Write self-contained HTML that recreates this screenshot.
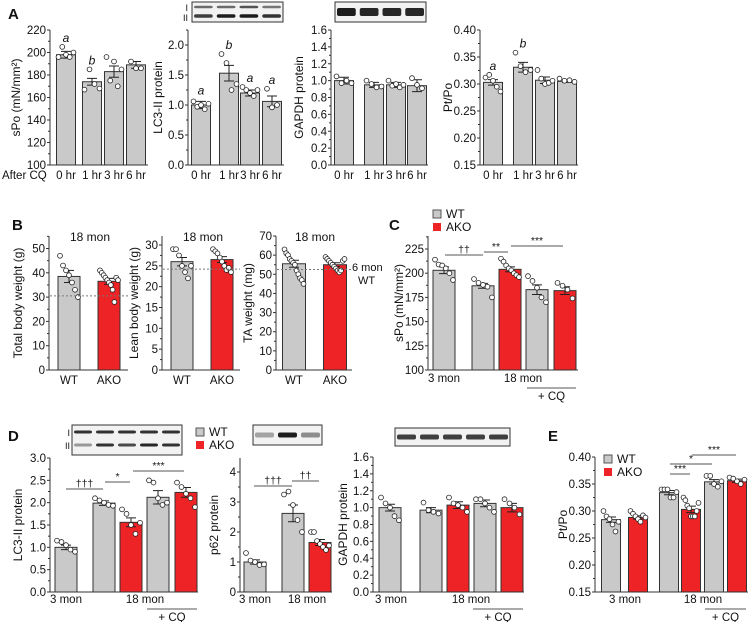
<!DOCTYPE html>
<html><head><meta charset="utf-8">
<style>
html,body{margin:0;padding:0;background:#fff;}
svg{display:block;font-family:"Liberation Sans",Arial,sans-serif;}
</style></head>
<body>
<svg id="fig" width="750" height="622" viewBox="0 0 750 622" xmlns="http://www.w3.org/2000/svg"></svg>
<script>
// ===== DATA =====
const aLabels = ["0 hr","1 hr","3 hr","6 hr"];
const aSpoVals = [198,174,183,189];
const aSpoErr = [3,3,5,3];
const aSpoPts = [[196,205,198,196,200],[167,185,172,168],[196,175,192,170,185],[192,186,186]];
const aLc3Vals = [1.0,1.53,1.2,1.06];
const aLc3Err = [0.06,0.13,0.05,0.09];
const aLc3Pts = [[1.06,0.97,1.0,0.93,1.02],[1.85,1.7,1.25,1.35],[1.3,1.25,1.2,1.15,1.25],[1.27,0.96,1.0]];
const aGapdhVals = [1.0,0.95,0.95,0.94];
const aGapdhErr = [0.04,0.03,0.03,0.07];
const aGapdhPts = [[1.05,0.97,1.0,0.97],[1.0,0.96,0.92,0.93],[1.0,0.94,0.96,0.92,0.95],[1.03,0.95,0.91]];
const aPtVals = [0.303,0.331,0.307,0.305];
const aPtErr = [0.005,0.009,0.006,0.002];
const aPtPts = [[0.312,0.317,0.306,0.295,0.286],[0.358,0.333,0.322,0.326],[0.326,0.31,0.3,0.302,0.306],[0.31,0.306,0.307,0.304]];
const bLabels = ["WT","AKO"];
const bTotalVals = [38.5,36.5];
const bTotalErr = [2.5,1.2];
const bTotalPts = [[47,43,41,39,36,33,30],[41,40,39,38,37,36,35,33,28,38,37]];
const bLeanVals = [26,26.5];
const bLeanErr = [1,0.7];
const bLeanPts = [[29,29,27.5,25,23.5,22,25],[29,28.5,28,27,26,25,24,24.5,23.5]];
const bTaVals = [55.5,55];
const bTaErr = [1.8,1];
const bTaPts = [[63,61,60,58,57,56,55,52,50,48,47,45],[59,58,57,56,55,54,53,52,51,52,57,58]];
const bRefLines = [30.5,24.2,52.5];
const cVals = [203,187,204,183,182];
const cErr = [3.5,2.5,2.5,5,4];
const cPts = [[214,209,208,205,200,193],[194,190,188,186,175],[215,212,208,205,203,200,198,196],[197,192,185,175,170],[190,187,183,174]];
const dLc3Vals = [1.0,1.99,1.56,2.12,2.23];
const dLc3Err = [0.05,0.05,0.1,0.15,0.11];
const dLc3Pts = [[1.15,1.12,1.05,0.95,0.9],[2.1,2.05,2.0,1.95,1.93],[1.85,1.75,1.5,1.3,1.55],[2.5,2.45,2.1,1.95,2.0],[2.45,2.35,2.2,2.1,1.9]];
const dP62Vals = [1.0,2.62,1.65];
const dP62Err = [0.07,0.28,0.1];
const dP62Pts = [[1.3,1.05,1.0,0.9,0.92],[3.25,3.35,2.9,2.4,2.0],[2.0,2.0,1.7,1.6,1.5,1.4,1.55]];
const dGapdhVals = [1.0,0.97,1.03,1.05,1.0];
const dGapdhErr = [0.04,0.03,0.04,0.04,0.05];
const dGapdhPts = [[1.12,1.05,1.0,0.9,0.85],[1.06,0.97,0.95,0.93],[1.12,1.05,1.03,1.0,0.95],[1.1,1.1,1.05,1.0,0.95],[1.1,1.05,1.0,0.92]];
const eVals = [0.284,0.288,0.334,0.303,0.354,0.356];
const eErr = [0.005,0.003,0.004,0.006,0.004,0.003];
const ePts = [[0.3,0.29,0.285,0.275,0.262,0.28],[0.3,0.295,0.29,0.285,0.28,0.292,0.288],[0.34,0.34,0.34,0.325,0.325,0.335],[0.325,0.32,0.31,0.305,0.29,0.29,0.29,0.3,0.315],[0.365,0.365,0.35,0.345,0.355],[0.362,0.36,0.355,0.35,0.358]];

// ===== HELPERS =====
const NS="http://www.w3.org/2000/svg";
const svg=document.getElementById('fig');
function mk(tag,attrs,parent){const e=document.createElementNS(NS,tag);for(const k in attrs)e.setAttribute(k,attrs[k]);(parent||svg).appendChild(e);return e;}
function txt(x,y,s,size,anchor,extra){const t=mk('text',Object.assign({x:x,y:y,'font-size':size||11,'text-anchor':anchor||'middle',fill:'#111'},extra||{}));t.textContent=s;return t;}
const GRAY="#c9c9c9", RED="#ee2326";

function chart(cfg){
  const g=mk('g',{});
  
  
  const Y=v=>cfg.yBot-(v-cfg.vmin)/(cfg.vmax-cfg.vmin)*(cfg.yBot-cfg.yBotTop);
  cfg.vals.forEach((v,i)=>{
    const cx=cfg.xs[i], bw=cfg.bw;
    const r=mk('rect',{x:cx-bw/2,y:Y(v),width:bw,height:cfg.yBot-Y(v),fill:(cfg.colors?cfg.colors[i]:GRAY),stroke:'#333','stroke-width':1},g);
    
    
    const e=cfg.errs[i];
    const eb=mk('path',{d:`M${cx} ${Y(v+e)}V${Y(v-e)}M${cx-5} ${Y(v+e)}H${cx+5}M${cx-5} ${Y(v-e)}H${cx+5}`,stroke:'#222','stroke-width':1,fill:'none'},g);
    
    
    const pts=cfg.pts[i];
    pts.forEach((p,j)=>{
      const n=pts.length; const off=(j-(n-1)/2)*Math.min(5,(bw-4)/Math.max(1,n-1));
      const c=mk('circle',{cx:cx+off,cy:Y(p),r:2.4,fill:'#fff',stroke:'#222','stroke-width':0.8},g);
      
      
    });
  });
  const ax=mk('path',{d:`M${cfg.ax} ${cfg.yTop}V${cfg.yBot}H${cfg.axEnd}`,stroke:'#333','stroke-width':1,fill:'none'},g);
  
  
  for(let v=cfg.vmin; v<=cfg.vmax+1e-9; v+=cfg.step){
    const y=Y(v);
    mk('line',{x1:cfg.ax-3,x2:cfg.ax,y1:y,y2:y,stroke:'#333'},g);
    const t=txt(cfg.ax-4,y+4,v.toFixed(cfg.dec),11.5,'end',{},g);
    
    
    const ym=Y(v+cfg.step/2);
    if(ym>=cfg.yTop-0.5) mk('line',{x1:cfg.ax-2,x2:cfg.ax,y1:ym,y2:ym,stroke:'#333'},g);
  }
  const yt=txt(0,0,cfg.title,12,'middle',{transform:`translate(${cfg.titleX},${(cfg.yTop+cfg.yBot)/2}) rotate(-90)`});
  
  
  if(cfg.labels){cfg.labels.forEach((l,i)=>{const t=txt(cfg.xs[i],cfg.yBot+14,l,11.5);});}
  return Y;
}
function blot(x,y,w,h,rows,name){
  const g=mk('g',{});
  
  
  mk('rect',{x:x,y:y,width:w,height:h,fill:'#f2f2f2',stroke:'#333','stroke-width':1},g);
  rows.forEach(r=>{r.bands.forEach((b,i)=>{const n=r.bands.length;const bw=w/n;mk('rect',{x:x+i*bw+2,y:r.y-r.h/2,width:bw-4,height:r.h,rx:2,fill:'#111','fill-opacity':b},g);});});
}
function sig(x1,x2,y,s){const l=mk('line',{x1:x1,x2:x2,y1:y,y2:y,stroke:'#555','stroke-width':1});const t=txt((x1+x2)/2,y-2,s,10.5);}
function letter(x,y,s){const t=txt(x,y,s,12,'middle',{'font-style':'italic'});}
function panel(x,y,s){const t=txt(x,y,s,15,'start',{'font-weight':'bold'});}
function legend(x,y){
  const r1=mk('rect',{x:x,y:y-8,width:8,height:8,fill:GRAY,stroke:'#555'});
  const t1=txt(x+13,y,'WT',12,'start');
  const r2=mk('rect',{x:x,y:y+5,width:8,height:8,fill:RED});
  const t2=txt(x+13,y+13,'AKO',12,'start');
}
function grpLabels(xa,xb,xc1,xc2,ybase){
  const a=txt(xa,ybase,'3 mon',11.5);
  const b=txt(xb,ybase,'18 mon',11.5);
  if(xc1!==null){const l=mk('line',{x1:xc1,x2:xc2,y1:ybase+6,y2:ybase+6,stroke:'#555'});
  const c=txt((xc1+xc2)/2,ybase+18,'+ CQ',11.5);}
}

// ===== PANEL A =====
panel(8,19,'A');
let Y;
Y=chart({name:'chart-a-spo',vals:aSpoVals,errs:aSpoErr,pts:aSpoPts,xs:[66,92,114,136],bw:19,ax:50,axEnd:148,yTop:30,yBotTop:30,yBot:165,vmin:100,vmax:220,step:20,dec:0,title:'sPo (mN/mm²)',titleX:20,labels:aLabels});
letter(66,Y(205)-5,'a');letter(92,Y(185)-5,'b');
{const t=txt(2,179,'After CQ',11.5,'start');}
Y=chart({name:'chart-a-lc3',vals:aLc3Vals,errs:aLc3Err,pts:aLc3Pts,xs:[201,229,250,272],bw:19,ax:188,axEnd:284,yTop:30,yBotTop:45,yBot:165,vmin:0,vmax:2.0,step:0.5,dec:1,title:'LC3-II protein',titleX:162,labels:aLabels});
letter(201,Y(1.06)-7,'a');letter(229,Y(1.85)-5,'b');letter(250,Y(1.3)-5,'a');letter(272,Y(1.27)-5,'a');
blot(192,2,91,20,[{y:7,h:2.5,bands:[0.6,0.6,0.7,0.55]},{y:16,h:3.5,bands:[0.8,0.95,0.95,0.85]}],'lc3-blot-a');
txt(188,11,'I',9,'end');txt(188,21,'II',9,'end');
chart({name:'chart-a-gapdh',vals:aGapdhVals,errs:aGapdhErr,pts:aGapdhPts,xs:[344,374,396,417],bw:19,ax:331,axEnd:428,yTop:30,yBotTop:30,yBot:165,vmin:0,vmax:1.6,step:0.2,dec:1,title:'GAPDH protein',titleX:303,labels:aLabels});
blot(335,2,91,20,[{y:12,h:8,bands:[0.95,0.9,0.9,0.9]}],'gapdh-blot-a');
Y=chart({name:'chart-a-ptpo',vals:aPtVals,errs:aPtErr,pts:aPtPts,xs:[493,523,545,567],bw:19,ax:480,axEnd:578,yTop:30,yBotTop:30,yBot:165,vmin:0.15,vmax:0.40,step:0.05,dec:2,title:'Pt/Po',titleX:452,labels:aLabels});
letter(493,Y(0.317)-5,'a');letter(523,Y(0.358)-5,'b');

// ===== PANEL B =====
panel(12,230,'B');
const bCols=[GRAY,RED];
function refLine(x1,x2,y){const l=mk('line',{x1:x1,x2:x2,y1:y,y2:y,stroke:'#777','stroke-dasharray':'2,2'});}
Y=chart({name:'chart-b-total',vals:bTotalVals,errs:bTotalErr,pts:bTotalPts,xs:[69,109],bw:22,ax:49,axEnd:128,yTop:236,yBotTop:248.5,yBot:370,vmin:0,vmax:50,step:10,dec:0,title:'Total body weight (g)',titleX:22,labels:bLabels,colors:bCols});
refLine(50,128,Y(bRefLines[0]));
txt(90,241,'18 mon',12);
Y=chart({name:'chart-b-lean',vals:bLeanVals,errs:bLeanErr,pts:bLeanPts,xs:[182,222],bw:22,ax:162,axEnd:240,yTop:236,yBotTop:245,yBot:370,vmin:0,vmax:30,step:5,dec:0,title:'Lean body weight (g)',titleX:138,labels:bLabels,colors:bCols});
refLine(163,240,Y(bRefLines[1]));
txt(203,241,'18 mon',12);
Y=chart({name:'chart-b-ta',vals:bTaVals,errs:bTaErr,pts:bTaPts,xs:[294,335],bw:23,ax:276,axEnd:352,yTop:236,yBotTop:236,yBot:370,vmin:0,vmax:70,step:10,dec:0,title:'TA weight (mg)',titleX:252,labels:bLabels,colors:bCols});
refLine(277,352,Y(bRefLines[2]));
txt(315,241,'18 mon',12);
txt(352,271,'6 mon',11,'start');txt(358,284,'WT',11,'start');

// ===== PANEL C =====
panel(389,230,'C');
legend(433,218);
const c5=[GRAY,GRAY,RED,GRAY,RED];
Y=chart({name:'chart-c-spo',vals:cVals,errs:cErr,pts:cPts,xs:[444,483,510,537,565],bw:22,ax:428,axEnd:578,yTop:236,yBotTop:249,yBot:370,vmin:100,vmax:225,step:25,dec:0,title:'sPo (mN/mm²)',titleX:403,colors:c5});
sig(445,483,255,'††');sig(484,508,252,'**');sig(511,563,246,'***');
grpLabels(444,523,527,576,382);

// ===== PANEL D =====
panel(8,441,'D');
blot(72,425,110,30,[{y:432,h:3,bands:[0.85,0.85,0.85,0.85,0.85]},{y:445,h:3,bands:[0.4,0.85,0.75,0.9,0.85]}],'lc3-blot-d');
txt(70,436,'I',9,'end');txt(70,449,'II',9,'end');
legend(196,436);
Y=chart({name:'chart-d-lc3',vals:dLc3Vals,errs:dLc3Err,pts:dLc3Pts,xs:[66,104,131,158,186],bw:22,ax:50,axEnd:198,yTop:458,yBotTop:458,yBot:592,vmin:0,vmax:3.0,step:0.5,dec:1,title:'LC3-II protein',titleX:22,colors:c5});
sig(66,103,489,'†††');sig(105,130,482,'*');sig(133,184,471,'***');
grpLabels(66,145,147,197,603);
blot(253,425,69,20,[{y:435,h:5,bands:[0.35,0.95,0.45]}],'p62-blot-d');
chart({name:'chart-d-p62',vals:dP62Vals,errs:dP62Err,pts:dP62Pts,xs:[255,293,320],bw:22,ax:240,axEnd:332,yTop:458,yBotTop:472,yBot:592,vmin:0,vmax:4,step:1,dec:0,title:'p62 protein',titleX:218,colors:[GRAY,GRAY,RED]});
sig(254,292,486,'†††');sig(292,319,481,'††');
grpLabels(255,307,null,null,603);
blot(395,428,115,18,[{y:437,h:5,bands:[0.8,0.8,0.8,0.8,0.8]}],'gapdh-blot-d');
chart({name:'chart-d-gapdh',vals:dGapdhVals,errs:dGapdhErr,pts:dGapdhPts,xs:[390,431,458,485,512],bw:22,ax:373,axEnd:524,yTop:457,yBotTop:457,yBot:592,vmin:0,vmax:1.6,step:0.2,dec:1,title:'GAPDH protein',titleX:347,colors:c5});
grpLabels(391,471,473,523,603);

// ===== PANEL E =====
panel(548,441,'E');
chart({name:'chart-e-ptpo',vals:eVals,errs:eErr,pts:ePts,xs:[611,638,669,691,714,737],bw:19,ax:595,axEnd:748,yTop:457,yBotTop:457,yBot:592,vmin:0.15,vmax:0.40,step:0.05,dec:2,title:'Pt/Po',titleX:567,colors:[GRAY,RED,GRAY,RED,GRAY,RED]});
legend(604,463);
sig(670,690,474,'***');sig(670,712,464,'*');sig(692,736,455,'***');
grpLabels(625,703,705,746,603);
</script>
</body></html>
